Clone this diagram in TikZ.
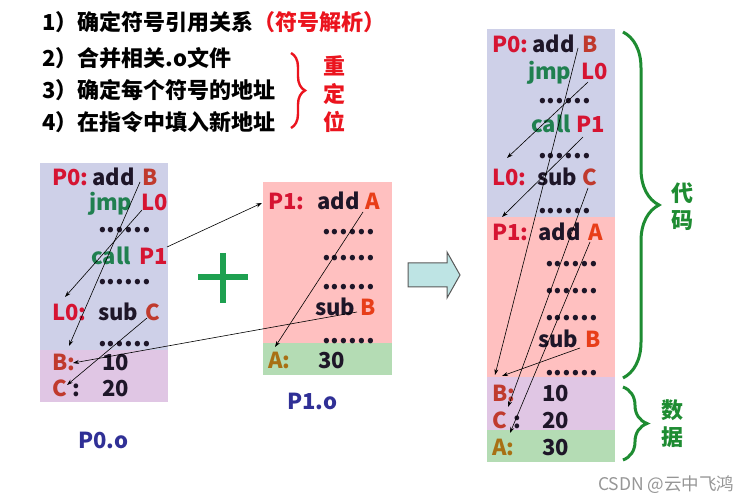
\documentclass[tikz,border=0pt]{standalone}
\usepackage{fontspec}
\setmainfont{Noto Sans CJK SC}
\usetikzlibrary{decorations.pathreplacing,arrows.meta}
\definecolor{lred}{RGB}{214,20,50}
\definecolor{bred}{RGB}{192,58,45}
\definecolor{ored}{RGB}{232,62,25}
\definecolor{gold}{RGB}{168,112,20}
\definecolor{igreen}{RGB}{32,128,80}
\definecolor{dk}{RGB}{30,22,40}
\definecolor{bluebg}{RGB}{206,208,232}
\definecolor{purbg}{RGB}{224,198,228}
\definecolor{pinkbg}{RGB}{255,192,192}
\definecolor{greenbg}{RGB}{180,220,180}
\definecolor{fname}{RGB}{48,48,150}
\definecolor{plusg}{RGB}{30,160,80}
\definecolor{braceg}{RGB}{30,140,50}
\definecolor{tred}{RGB}{235,20,30}
\definecolor{arrfill}{RGB}{190,228,228}
\definecolor{wm}{RGB}{150,150,150}
\begin{document}
\begin{tikzpicture}[x=1pt,y=-1pt,
  tx/.style={anchor=base west, inner sep=0pt, font=\bfseries\fontsize{22}{24}\selectfont, text=dk},
  dots/.style={anchor=base west, inner sep=0pt, text height=4pt, text depth=0pt, font=\bfseries\fontsize{25}{27}\selectfont, text=dk},
  cj/.style={anchor=west, inner sep=0pt, font=\bfseries\fontsize{22}{26}\selectfont},
  vc/.style={anchor=center, inner sep=0pt, font=\bfseries\fontsize{22}{26}\selectfont},
  lnk/.style={-{Stealth[length=6pt,width=4pt]}, line width=0.6pt, black},
  bracered/.style={decorate, decoration={brace, amplitude=14pt}, draw=tred, line width=2.4pt},
  bracegreen/.style={decorate, decoration={brace, amplitude=#1}, draw=braceg, line width=3pt}
]
\useasboundingbox (0,0) rectangle (749,502);
\fill[white] (0,0) rectangle (749,502);

% ---- top text ----
\node[cj] (s1) at (42,22) {1）确定符号引用关系\textcolor{tred}{（符号解析）}};
\node[cj] (s2) at (42,58) {2）合并相关.o文件};
\node[cj] (s3) at (42,90) {3）确定每个符号的地址};
\node[cj] (s4) at (42,122) {4）在指令中填入新地址};
\draw[bracered] (291,53) -- (291,128);
\node[vc, text=tred] (r1) at (334,66) {重};
\node[vc, text=tred] (r2) at (334,94) {定};
\node[vc, text=tred] (r3) at (334,122) {位};

% ---- left box P0.o ----
\fill[bluebg] (40,163) rectangle (168,350);
\fill[purbg] (40,350) rectangle (168,402);
\node[tx, text=lred] (lP0) at (52,186) {P0:};
\node[tx] (ladd) at (92,186) {add};
\node[tx, text=bred] (lB) at (142,186) {B};
\node[tx, text=igreen] (ljmp) at (89,211) {jmp};
\node[tx, text=lred] (lL0) at (141,211) {L0};
\node[dots] (ld1) at (98,233) {......};
\node[tx, text=igreen] (lcall) at (91,265) {call};
\node[tx, text=lred] (lP1) at (139,265) {P1};
\node[dots] (ld2) at (98,285) {......};
\node[tx, text=lred] (lL0d) at (52,321) {L0:};
\node[tx] (lsub) at (98,321) {sub};
\node[tx, text=bred] (lC) at (145,321) {C};
\node[dots] (ld3) at (98,346) {......};
\node[tx, text=bred] (lBd) at (52,370) {B:};
\node[tx] (l10) at (102,370) {10};
\node[tx, text=bred] (lCd) at (52,396) {C};
\node[tx] (lcol) at (72,396) {:};
\node[tx] (l20) at (102,396) {20};
\node[vc, text=fname] (n0) at (103,440) {P0.o};

% ---- plus ----
\draw[plusg, line width=6pt] (198,277) -- (248,277);
\draw[plusg, line width=6pt] (223,253) -- (223,303);

% ---- middle box P1.o ----
\fill[pinkbg] (263,182) rectangle (392,343);
\fill[greenbg] (263,343) rectangle (392,375);
\node[tx, text=lred] (mP1) at (268,210) {P1:};
\node[tx] (madd) at (317,210) {add};
\node[tx, text=ored] (mA) at (365,210) {A};
\node[dots] (md1) at (322,235) {......};
\node[dots] (md2) at (322,261) {......};
\node[dots] (md3) at (322,290) {......};
\node[tx] (msub) at (315,316) {sub};
\node[tx, text=ored] (mB) at (360,316) {B};
\node[dots] (md4) at (322,343) {......};
\node[tx, text=gold] (mAd) at (268,368) {A:};
\node[tx] (m30) at (318,368) {30};
\node[vc, text=fname] (n1) at (312,401) {P1.o};

% ---- block arrow ----
\draw[fill=arrfill, draw=black!65, line width=1pt]
  (408,263) -- (447,263) -- (447,252) -- (460,275) -- (447,298) -- (447,287) -- (408,287) -- cycle;

% ---- right box ----
\fill[bluebg] (487,29) rectangle (615,217);
\fill[pinkbg] (487,217) rectangle (615,377);
\fill[purbg] (487,377) rectangle (615,430);
\fill[greenbg] (487,430) rectangle (615,462);
\node[tx, text=lred] (rP0) at (492,53) {P0:};
\node[tx] (radd) at (532,53) {add};
\node[tx, text=bred] (rB) at (582,53) {B};
\node[tx, text=igreen] (rjmp) at (528,80) {jmp};
\node[tx, text=lred] (rL0) at (581,80) {L0};
\node[dots] (rd1) at (538,104) {......};
\node[tx, text=igreen] (rcall) at (531,133) {call};
\node[tx, text=lred] (rP1) at (576,133) {P1};
\node[dots] (rd2) at (538,159) {......};
\node[tx, text=lred] (rL0d) at (492,186) {L0:};
\node[tx] (rsub) at (537,186) {sub};
\node[tx, text=bred] (rC) at (582,186) {C};
\node[dots] (rd3) at (538,214) {......};
\node[tx, text=lred] (rP1d) at (492,241) {P1:};
\node[tx] (radd2) at (538,241) {add};
\node[tx, text=ored] (rA) at (588,241) {A};
\node[dots] (rd4) at (545,267) {......};
\node[dots] (rd5) at (545,294) {......};
\node[dots] (rd6) at (545,320) {......};
\node[tx] (rsub2) at (538,348) {sub};
\node[tx, text=ored] (rB2) at (585,348) {B};
\node[dots] (rd7) at (545,375) {......};
\node[tx, text=bred] (rBd) at (492,401) {B:};
\node[tx] (r10) at (542,401) {10};
\node[tx, text=bred] (rCd) at (492,428) {C};
\node[tx] (rcol) at (513,428) {:};
\node[tx] (r20) at (542,428) {20};
\node[tx, text=gold] (rAd) at (492,455) {A:};
\node[tx] (r30) at (542,455) {30};

% ---- braces ----
\draw[bracegreen=36pt] (623,32) -- (623,378);
\node[vc, text=braceg] (k1) at (682,193) {代};
\node[vc, text=braceg] (k2) at (682,221) {码};
\draw[bracegreen=24pt] (623,387) -- (623,460);
\node[vc, text=braceg] (k3) at (672,410) {数};
\node[vc, text=braceg] (k4) at (672,437) {据};

% ---- watermark ----
\node[anchor=west, inner sep=0pt, text=wm, font=\fontsize{17.5}{19}\selectfont] (wmk) at (598,485) {CSDN @云中飞鸿};

% ---- arrow end points ----
\coordinate (aLB0) at (140,182);   \coordinate (aLB1) at (69,346);
\coordinate (aLL0) at (142,210);   \coordinate (aLL1) at (65,297);
\coordinate (aLP0) at (167,247);   \coordinate (aLP1) at (262,203);
\coordinate (aLC0) at (147,318);   \coordinate (aLC1) at (67,385);
\coordinate (aMB0) at (357,312);   \coordinate (aMB1) at (73,363);
\coordinate (aMA0) at (363,212);   \coordinate (aMA1) at (275,347);
\coordinate (aRB0) at (578,48);    \coordinate (aRB1) at (495,375);
\coordinate (aRL0) at (588,82);    \coordinate (aRL1) at (507,158);
\coordinate (aRP0) at (583,137);   \coordinate (aRP1) at (502,217);
\coordinate (aRC0) at (588,188);   \coordinate (aRC1) at (508,407);
\coordinate (aRA0) at (590,242);   \coordinate (aRA1) at (510,433);
\coordinate (aRS0) at (580,348);   \coordinate (aRS1) at (502,376);

\draw[lnk] (aLB0) -- (aLB1);
\draw[lnk] (aLL0) -- (aLL1);
\draw[lnk] (aLP0) -- (aLP1);
\draw[lnk] (aLC0) -- (aLC1);
\draw[lnk] (aMB0) -- (aMB1);
\draw[lnk] (aMA0) -- (aMA1);
\draw[lnk] (aRB0) -- (aRB1);
\draw[lnk] (aRL0) -- (aRL1);
\draw[lnk] (aRP0) -- (aRP1);
\draw[lnk] (aRC0) -- (aRC1);
\draw[lnk] (aRA0) -- (aRA1);
\draw[lnk] (aRS0) -- (aRS1);
\end{tikzpicture}
\end{document}
